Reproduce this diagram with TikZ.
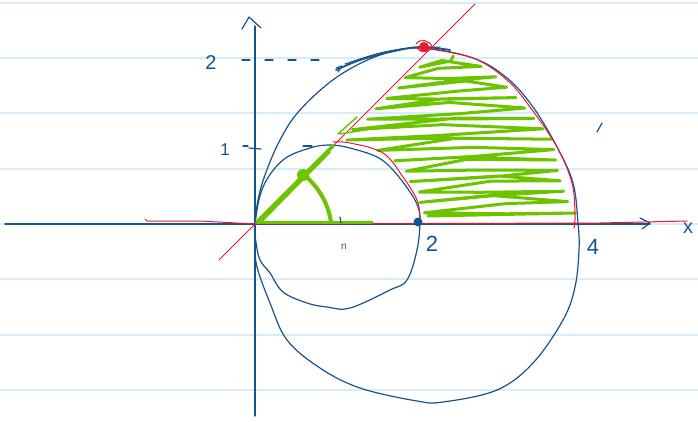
\documentclass[tikz,border=0pt]{standalone}
\usepackage{fontspec}
\setmainfont{Liberation Sans}
\definecolor{inkblue}{RGB}{22,84,142}
\definecolor{inkred}{RGB}{232,24,48}
\definecolor{inkgreen}{RGB}{108,196,0}
\definecolor{ruleblue}{RGB}{214,236,250}
\begin{document}
\begin{tikzpicture}[x=1pt,y=-1pt,line cap=round,line join=round,
  declare function={Lx(\p)=(\p>145)?(336+100*sqrt(max(0,0.6724-((224-\p)/100)^2))):(479-\p);
                    Rx(\p)=416+160*sqrt(max(0,1-((224-\p)/175)^2));},
  blueink/.style={draw=inkblue,line width=1.2pt},
  redink/.style={draw=inkred,line width=1pt},
  greenink/.style={draw=inkgreen,line width=3.4pt},
  rulestyle/.style={draw=ruleblue,line width=1.2pt},
  lbl/.style={text=inkblue,inner sep=0pt,font=\fontsize{22}{22}\selectfont}]
\useasboundingbox (0,0) rectangle (698,421);
\fill[white] (0,0) rectangle (698,421);
% ruled paper
\foreach \yy in {3,58,113,169,224,279,335,390}{\draw[rulestyle] (0,\yy) -- (698,\yy);}
% green scribble fill
\draw[greenink,line width=3pt] (428,216) -- (575,213) \foreach \i in {1,...,30}{
  -- ({0.5*(Lx(215-5.2*\i)+Rx(215-5.2*\i))+12*sin(\i*61)}, {215-5.2*\i+4*sin(\i*97)})
  -- ({mod(\i,2)==0 ? Rx(212-5.2*\i)-4-7*abs(sin(\i*77)) : Lx(218-5.2*\i)+3+5*abs(sin(\i*53))},
      {mod(\i,2)==0 ? 212-5.2*\i : 218-5.2*\i}) };
% axes
\draw[blueink] (5,224) -- (650,224);
\draw[blueink] (640,218) -- (650,223) -- (642,229);
\draw[blueink] (255,416) -- (255,26);
\draw[blueink] (242,29) -- (249,17) -- (261,28);
% circles
\draw[blueink] plot[smooth cycle,tension=0.6] coordinates {(255,224) (258,200) (265,175) (280,140) (300,110) (337,77) (380,55) (420,48) (473,58) (507,78) (533,107) (557,147) (573,183) (578,223) (579,250) (575,287) (563,320) (533,363) (497,390) (443,402) (417,401) (360,388) (320,368) (287,340) (270,303) (257,267) (255,245)};
\draw[blueink] plot[smooth cycle,tension=0.6] coordinates {(255,224) (263,187) (283,160) (310,148) (330,145) (350,148) (377,157) (393,170) (410,192) (418,207) (420,222) (417,250) (407,280) (390,290) (350,308) (327,307) (307,303) (283,292) (270,273) (260,260) (256,242)};
\draw[blueink,line width=1.8pt] plot[smooth,tension=0.6] coordinates {(336,70) (360,60) (390,52) (420,47) (450,50)};
\draw[blueink,line width=1pt] plot[smooth,tension=0.6] coordinates {(345,64) (380,53) (410,48) (440,47)};
\draw[blueink] (336,68) -- (342,66) -- (338,72);
% red
\draw[redink] (145,219) -- (147,221) -- (200,221) -- (255,224) -- (600,223) -- (687,221);
\draw[redink] (219,260) -- (475,4);
\draw[redink] plot[smooth,tension=0.6] coordinates {(333,142) (350,143) (383,153) (403,177) (417,200) (420,217) (420,222)};
\draw[redink] plot[smooth,tension=0.6] coordinates {(423,48) (473,58) (507,80) (530,107) (557,147) (572,183) (575,215) (574,228)};
\fill[inkred] (424,47) circle (5);
\draw[redink] (416,44) .. controls (420,38) and (430,40) .. (432,47) .. controls (430,53) and (418,53) .. (417,47);
\fill[inkblue] (418,222) circle (4.5);
% green triangle
\draw[greenink,line width=3.6pt] (257,222) -- (333,146);
\draw[greenink,line width=2pt] (262,221) -- (330,152);
\draw[greenink,line width=4pt] (301,172) .. controls (318,186) and (328,202) .. (331,222);
\draw[greenink,line width=3pt] (257,222) -- (372,222);
\fill[inkgreen] (303,175) circle (6);
\draw[greenink,line width=1.5pt] (338,134) -- (357,117);
\draw[greenink,line width=1.5pt] (340,134) -- (395,125);
% ticks and dashes
\draw[blueink,dash pattern=on 8pt off 15pt] (242,60) -- (325,60);
\draw[blueink] (243,146) -- (248,146);
\draw[blueink] (249,148) -- (261,149);
\draw[blueink] (303,146) -- (312,146);
\draw[blueink] (340,217) -- (341,223);
\draw[blueink] (597,132) -- (602,123);
% labels
\node[lbl,font=\fontsize{20}{20}\selectfont] (ytwo) at (211,63) {2};
\node[lbl,font=\fontsize{17}{17}\selectfont] (yone) at (225,150) {1};
\node[lbl] (xtwo) at (432,244) {2};
\node[lbl] (xfour) at (593,247) {4};
\node[lbl,font=\fontsize{10}{10}\selectfont] (xone) at (344,247) {n};
\node[lbl,font=\fontsize{20}{20}\selectfont] (xlab) at (688,228) {x};
\end{tikzpicture}
\end{document}
